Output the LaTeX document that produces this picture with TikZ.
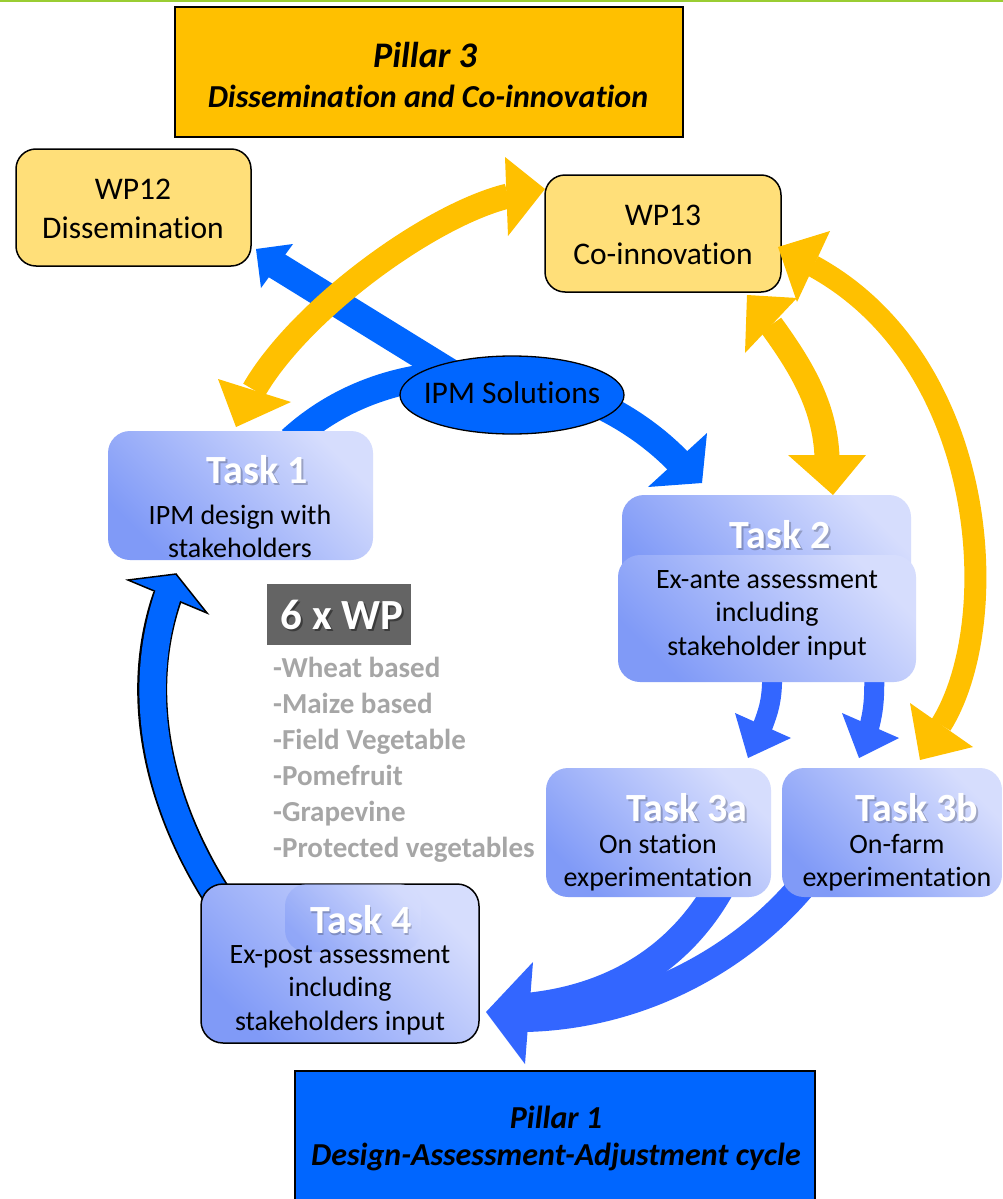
\documentclass[tikz,border=0pt]{standalone}
\usepackage{fontspec}
\setmainfont{Carlito}[Ligatures={NoCommon}]
\usetikzlibrary{shapes.geometric}
\definecolor{gold}{HTML}{FFC000}
\definecolor{wpfill}{HTML}{FFDF79}
\definecolor{pblue}{HTML}{0066FF}
\definecolor{ablue}{HTML}{3366FF}
\definecolor{tdark}{HTML}{809AF7}
\definecolor{tmid}{HTML}{B8C5FB}
\definecolor{tlight}{HTML}{D6DDFD}
\definecolor{wpgray}{HTML}{646464}
\definecolor{listgray}{HTML}{A6A6A6}
\definecolor{topgreen}{HTML}{9ACD32}
\begin{document}
\begin{tikzpicture}[x=1pt,y=-1pt,
  pillar/.style={draw=black,line width=2pt,rectangle,outer sep=0pt,inner sep=0pt},
  wpbox/.style={draw=black,line width=1.5pt,fill=wpfill,rectangle,rounded corners=20pt,outer sep=0pt,inner sep=0pt},
  taskbox/.style={rectangle,rounded corners=22pt,outer sep=0pt,inner sep=0pt,top color=tlight,middle color=tmid,bottom color=tdark,shading angle=-45},
  wptext/.style={font=\fontsize{31.5}{39}\selectfont,align=center,inner sep=0pt},
  bodytext/.style={font=\fontsize{28}{33.5}\selectfont,align=center,inner sep=0pt},
  titletext/.style={font=\fontsize{40}{48}\selectfont\bfseries,text=white,inner sep=0pt},
  titleshadow/.style={font=\fontsize{40}{48}\selectfont\bfseries,text=black,opacity=0.22,inner sep=0pt},
  yband/.style={draw=gold,line width=25pt},
  bband/.style={draw=pblue,line width=27pt},
  aband/.style={draw=ablue,line width=20pt}]
\useasboundingbox (0,0) rectangle (1003,1199);
\fill[white] (0,0) rectangle (1003,1199);
\draw[topgreen,line width=3pt] (0,1) -- (1003,1);

% Pillar boxes and WP boxes
\node[pillar,fill=gold,minimum width=508,minimum height=130] (p3) at (429,72) {};
\node[font=\fontsize{36}{41}\selectfont\bfseries\itshape,inner sep=0pt] (p3a) at (425,55) {Pillar 3};
\node[font=\fontsize{32}{41}\selectfont\bfseries\itshape,inner sep=0pt] (p3b) at (428,96) {Dissemination and Co-innovation};
\node[pillar,fill=pblue,minimum width=520,minimum height=140] (p1) at (555,1141) {};
\node[font=\fontsize{32}{37}\selectfont\bfseries\itshape,align=center,inner sep=0pt] (p1t) at (556,1138.5) {Pillar 1\\Design-Assessment-Adjustment cycle};
\node[wpbox,minimum width=235,minimum height=117] (wp12) at (133.5,207.5) {};
\node[wptext] (wp12t) at (133,208.5) {WP12\\Dissemination};
\node[wpbox,minimum width=236,minimum height=117] (wp13) at (663,233.5) {};
\node[wptext] (wp13t) at (663,235) {WP13\\Co-innovation};

% named arrow coordinates
\coordinate (ipmA) at (470,385);
\coordinate (wp12tip) at (256,249);
\coordinate (t1out) at (291,440);
\coordinate (t2tip) at (702,483);

% blue arrow IPM -> WP12
\draw[bband,line width=28pt] (ipmA) -- (274,264);
\fill[pblue] (wp12tip) -- (293,244) -- (261,288) -- cycle;
% blue arrow Task1 -> Task2 via IPM
\draw[bband] (t1out) .. controls (400,340) and (580,360) .. (679,462);
\fill[pblue] (t2tip) -- (707,433) -- (648,487) -- cycle;

% yellow WP12 <-> WP13
\draw[yband] (254,390) .. controls (300,310) and (430,215) .. (508,196);
\fill[gold] (236,427) -- (218,379) -- (291,402) -- cycle;
\fill[gold] (545,189) -- (505,157) -- (508,236) -- cycle;
% yellow WP13 <-> Task2
\draw[yband] (771,325) .. controls (800,365) and (825,405) .. (827,457);
\fill[gold] (747,295) -- (797,298) -- (745,353) -- cycle;
\fill[gold] (833,495) -- (788,455) -- (866,455) -- cycle;
% yellow WP13 <-> Task3b
\draw[yband,line width=22pt] (813,266) .. controls (989,362) and (1005,622) .. (941,725);
\fill[gold] (778,247) -- (830,231) -- (797,302) -- cycle;
\fill[gold] (920,760) -- (910,703) -- (973,747) -- cycle;

% IPM ellipse
\node[ellipse,draw=black,line width=1.3pt,fill=pblue,minimum width=224,minimum height=78,inner sep=0pt] (ipm) at (512,395) {};
\node[font=\fontsize{31.5}{38}\selectfont,inner sep=0pt] (ipmt) at (512,393) {IPM Solutions};

% blue arrows Task2 -> Task3a / Task3b
\draw[aband] (772,670) .. controls (773,700) and (768,712) .. (762,728);
\fill[ablue] (748,758) -- (735,713) -- (791,738) -- cycle;
\draw[aband] (874,670) .. controls (875,700) and (873,712) .. (869,728);
\fill[ablue] (859,758) -- (842,713) -- (899,738) -- cycle;

% big blue arrow Task3a/3b -> Task4
\draw[aband,line width=30pt] (721,885) .. controls (680,960) and (610,1000) .. (526,1008);
\draw[aband,line width=28pt] (803,885) .. controls (740,960) and (640,1015) .. (526,1018);
\fill[ablue] (486,1012) -- (533,962) -- (525,1064) -- cycle;

% outlined blue arrow Task4 -> Task1
\draw[black,line width=30pt] (220,900) .. controls (155,800) and (135,690) .. (167.5,596.5);
\filldraw[fill=pblue,draw=black,line width=1.5pt,line join=miter] (176,574) -- (207,613) -- (128,580) -- cycle;
\draw[pblue,line width=26.5pt] (220,900) .. controls (155,800) and (135,690) .. (169,592);

% Task boxes
\node[taskbox,minimum width=265,minimum height=129] (t1) at (240.5,495.5) {};
\node[titleshadow] at (259,472) {Task 1};
\node[titletext] (t1title) at (257,470) {Task 1};
\node[bodytext] (t1body) at (240,531.5) {IPM design with\\stakeholders};

\node[taskbox,minimum width=289,minimum height=105] (t2top) at (766.5,547.5) {};
\node[taskbox,minimum width=298,minimum height=127] (t2) at (767,618.5) {};
\node[titleshadow] at (782,537) {Task 2};
\node[titletext] (t2title) at (780,535) {Task 2};
\node[bodytext] (t2body) at (767,615) {Ex-ante assessment\\including\\stakeholder input};

\node[taskbox,minimum width=225,minimum height=129] (t3a) at (658.5,832.5) {};
\node[titleshadow] at (689,810) {Task 3a};
\node[titletext] (t3atitle) at (687,808) {Task 3a};
\node[bodytext] (t3abody) at (658,862.5) {On station\\experimentation};

\node[taskbox,minimum width=220,minimum height=129] (t3b) at (892,832.5) {};
\node[titleshadow] at (919,810) {Task 3b};
\node[titletext] (t3btitle) at (917,808) {Task 3b};
\node[bodytext] (t3bbody) at (897,862.5) {On-farm\\experimentation};

\node[taskbox,draw=black,line width=1.5pt,minimum width=278,minimum height=159] (t4) at (340,963.5) {};
\node[taskbox,opacity=0.55,minimum width=136,minimum height=68] (t4top) at (353,918) {};
\node[titleshadow] at (362,922) {Task 4};
\node[titletext] (t4title) at (361,920) {Task 4};
\node[bodytext] (t4body) at (340,990) {Ex-post assessment\\including\\stakeholders input};

% 6 x WP
\node[fill=wpgray,minimum width=144,minimum height=61,inner sep=0pt] (wp6) at (339,614.5) {};
\node[font=\fontsize{43}{50}\selectfont\bfseries,text=black,opacity=0.4,inner sep=0pt] at (344,617) {6 x WP};
\node[font=\fontsize{43}{50}\selectfont\bfseries,text=white,inner sep=0pt] (wp6t) at (342,615) {6 x WP};
\node[font=\fontsize{29}{36}\selectfont\bfseries,text=listgray,align=left,anchor=west,inner sep=0pt] (wplist) at (273,760) {-Wheat based\\-Maize based\\-Field Vegetable\\-Pomefruit\\-Grapevine\\-Protected vegetables};
\end{tikzpicture}
\end{document}
